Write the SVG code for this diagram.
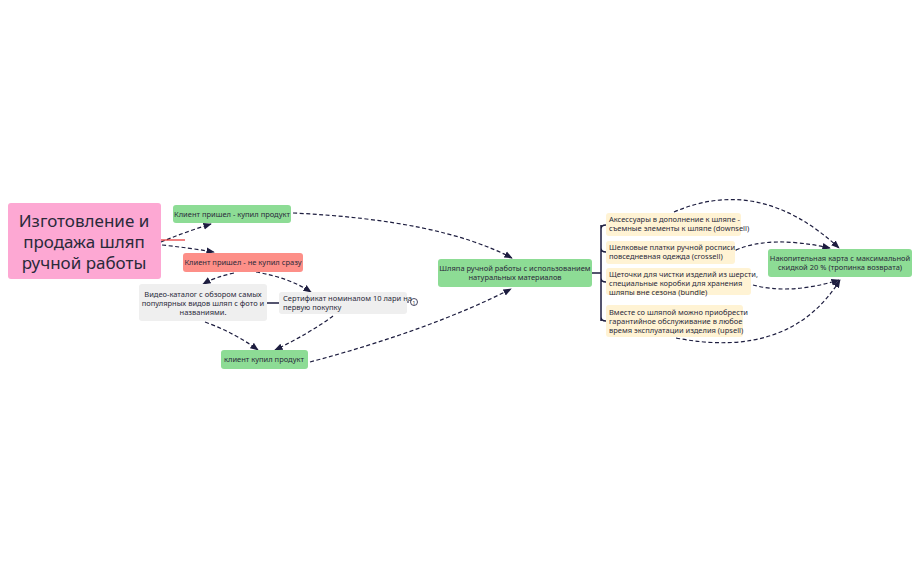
<svg xmlns="http://www.w3.org/2000/svg" width="920" height="569" viewBox="0 0 920 569">
<style>
text{font-family:"Noto Sans","Open Sans",sans-serif;fill:#2a2a3a;font-size:7.5px;text-anchor:middle}
.s{text-anchor:start}
.c{fill:none;stroke:#1d1d3f;stroke-width:1.2;stroke-dasharray:4 2.5;marker-end:url(#a)}
.g{fill:#8ddc95}.y{fill:#fff3d4}.r{fill:#fd8f88}.w{fill:#efefef}
</style>
<defs><marker id="a" viewBox="0 0 10 10" refX="9" refY="5" markerWidth="7" markerHeight="7" orient="auto"><path d="M0,1L10,5L0,9z" fill="#1d1d3f"/></marker></defs>
<rect width="920" height="569" fill="#fff"/>
<g id="connectors">
<path class="c" d="M161,242 Q185,232 211,224"/>
<line x1="161" y1="240" x2="185" y2="240" stroke="#e63030" stroke-width="1.2"/>
<path class="c" d="M162,245 Q190,248 214,252"/>
<path class="c" d="M234,273 Q215,277 203,284"/>
<path class="c" d="M256,272 Q290,278 311,292"/>
<path class="c" d="M205,322 Q235,333 258,350"/>
<path class="c" d="M333,316 Q310,333 275,350"/>
<line x1="267" y1="303" x2="279" y2="303" stroke="#1d1d3f" stroke-width="1.5"/>
<path d="M407,302 L410,302" stroke="#1d1d3f" stroke-dasharray="2 1"/>
<circle cx="414" cy="302" r="3.5" fill="#fff" stroke="#1d1d3f" stroke-width="0.8"/>
<text x="414" y="304.5" style="font-size:5px">1</text>
<path class="c" d="M293,213 Q440,220 512,258"/>
<path class="c" d="M310,362 Q430,330 511,289"/>
<path fill="none" stroke="#1d1d3f" stroke-width="1.5" d="M592,273 H601 M601,225 V321 M601,229 Q601,225 606,225 M601,248 Q601,252 606,252 M601,278 Q601,282 606,282 M601,317 Q601,321 606,321"/>
<path class="c" d="M674,212 Q760,175 839,248"/>
<path class="c" d="M736,250 Q770,235 830,248"/>
<path class="c" d="M753,285 Q790,295 839,280"/>
<path class="c" d="M676,338 Q790,360 840,280"/>
</g>
<g id="main"><rect x="8" y="203" width="153" height="76" rx="3" fill="#fda8d3"/>
<text x="84" y="227" style="font-size:17px">Изготовление и</text>
<text x="84" y="248" style="font-size:17px">продажа шляп</text>
<text x="84" y="269" style="font-size:17px">ручной работы</text></g>
<g id="a1"><rect class="g" x="173" y="205" width="118" height="18" rx="3"/><text x="232" y="216.5">Клиент пришел - купил продукт</text></g>
<g id="b1"><rect class="r" x="183" y="253" width="120" height="19" rx="3"/><text x="243" y="265">Клиент пришел - не купил сразу</text></g>
<g id="video"><rect class="w" x="139" y="284" width="128" height="37" rx="3"/><text x="203" y="297">Видео-каталог с обзором самых</text><text x="203" y="306">популярных видов шляп с фото и</text><text x="203" y="315">названиями.</text></g>
<g id="cert"><rect class="w" x="279" y="292" width="128" height="22" rx="3"/><text class="s" x="283" y="301">Сертификат номиналом 10 лари на</text><text class="s" x="283" y="310">первую покупку</text></g>
<g id="bought"><rect class="g" x="221" y="350" width="87" height="19" rx="3"/><text x="264" y="362">клиент купил продукт</text></g>
<g id="hat"><rect class="g" x="438" y="259" width="154" height="28" rx="3"/><text x="515" y="271">Шляпа ручной работы с использованием</text><text x="515" y="280">натуральных материалов</text></g>
<g id="y1"><rect class="y" x="606" y="213" width="135" height="23" rx="3"/><text class="s" x="609" y="222">Аксессуары в дополнение к шляпе -</text><text class="s" x="609" y="231">съемные элементы к шляпе (downsell)</text></g>
<g id="y2"><rect class="y" x="606" y="241" width="129" height="23" rx="3"/><text class="s" x="609" y="250">Шелковые платки ручной росписи,</text><text class="s" x="609" y="259">повседневная одежда (crossell)</text></g>
<g id="y3"><rect class="y" x="606" y="268" width="145" height="27" rx="3"/><text class="s" x="609" y="277">Щеточки для чистки изделий из шерсти,</text><text class="s" x="609" y="286">специальные коробки для хранения</text><text class="s" x="609" y="295">шляпы вне сезона (bundle)</text></g>
<g id="y4"><rect class="y" x="606" y="305" width="137" height="32" rx="3"/><text class="s" x="609" y="315">Вместе со шляпой можно приобрести</text><text class="s" x="609" y="324">гарантийное обслуживание в любое</text><text class="s" x="609" y="333">время эксплуатации изделия (upsell)</text></g>
<g id="card"><rect class="g" x="768" y="249" width="144" height="28" rx="3"/><text x="840" y="261">Накопительная карта с максимальной</text><text x="840" y="270">скидкой 20 % (тропинка возврата)</text></g>
</svg>
